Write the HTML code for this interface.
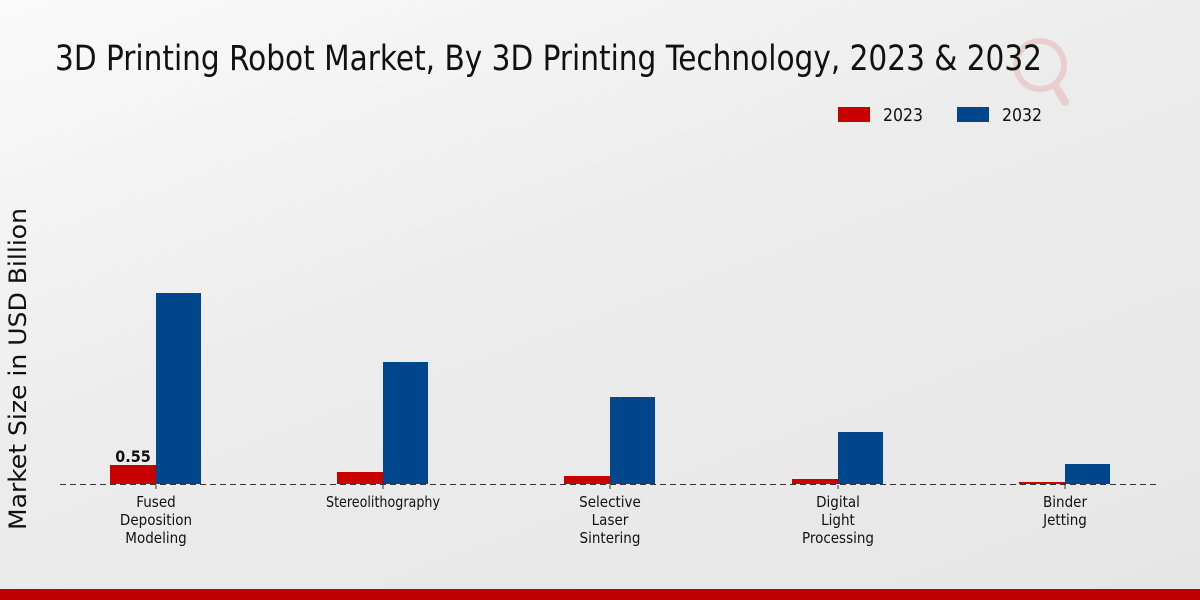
<!DOCTYPE html>
<html><head><style>
body{margin:0;width:1200px;height:600px;overflow:hidden;background:linear-gradient(160deg,#fafafa 0%,#ececec 45%,#e6e6e6 100%);font-family:"DejaVu Sans Condensed","DejaVu Sans",sans-serif;font-stretch:condensed;}
svg{position:absolute;left:0;top:0}
text{font-family:"DejaVu Sans Condensed","DejaVu Sans",sans-serif;font-stretch:condensed}
</style></head><body>
<svg width="1200" height="600">
<g opacity="0.12">
<circle cx="1040" cy="65" r="24" fill="none" stroke="#c00" stroke-width="6"/>
<line x1="1055" y1="85" x2="1065" y2="102" stroke="#c00" stroke-width="8" stroke-linecap="round"/>
</g>
<text x="55" y="70" font-size="35" fill="#111" textLength="987" lengthAdjust="spacingAndGlyphs">3D Printing Robot Market, By 3D Printing Technology, 2023 &amp; 2032</text>
<rect x="838" y="107" width="32" height="15" fill="#c80000"/>
<text x="883" y="121" font-size="18" fill="#111" textLength="40" lengthAdjust="spacingAndGlyphs">2023</text>
<rect x="957" y="107" width="32" height="15" fill="#00468b"/>
<text x="1002" y="121" font-size="18" fill="#111" textLength="40" lengthAdjust="spacingAndGlyphs">2032</text>
<text transform="translate(26,369) rotate(-90)" font-size="24" fill="#111" text-anchor="middle" textLength="322" lengthAdjust="spacingAndGlyphs">Market Size in USD Billion</text>
<g>
<rect x="110" y="465" width="46" height="19" fill="#c80000"/><rect x="156" y="293" width="45" height="191" fill="#00468b"/>
<rect x="337" y="472" width="46" height="12" fill="#c80000"/><rect x="383" y="362" width="45" height="122" fill="#00468b"/>
<rect x="564" y="476" width="46" height="8" fill="#c80000"/><rect x="610" y="397" width="45" height="87" fill="#00468b"/>
<rect x="792" y="479" width="46" height="5" fill="#c80000"/><rect x="838" y="432" width="45" height="52" fill="#00468b"/>
<rect x="1019" y="482" width="46" height="2" fill="#c80000"/><rect x="1065" y="464" width="45" height="20" fill="#00468b"/>
</g>
<line x1="60" y1="484.5" x2="1160" y2="484.5" stroke="#333" stroke-width="1" stroke-dasharray="6,4"/>
<g stroke="#333"><line x1="156" y1="485" x2="156" y2="489"/><line x1="383" y1="485" x2="383" y2="489"/><line x1="610" y1="485" x2="610" y2="489"/><line x1="838" y1="485" x2="838" y2="489"/><line x1="1065" y1="485" x2="1065" y2="489"/></g>
<text x="133" y="462" font-size="16" font-weight="bold" fill="#111" text-anchor="middle">0.55</text>
<g font-size="15" fill="#111" text-anchor="middle">
<text x="156" y="507">Fused</text><text x="156" y="525">Deposition</text><text x="156" y="543">Modeling</text>
<text x="383" y="507" textLength="114" lengthAdjust="spacingAndGlyphs">Stereolithography</text>
<text x="610" y="507">Selective</text><text x="610" y="525">Laser</text><text x="610" y="543">Sintering</text>
<text x="838" y="507">Digital</text><text x="838" y="525">Light</text><text x="838" y="543">Processing</text>
<text x="1065" y="507">Binder</text><text x="1065" y="525">Jetting</text>
</g>
<rect x="0" y="589" width="1200" height="11" fill="#c00000"/>
</svg>
</body></html>
